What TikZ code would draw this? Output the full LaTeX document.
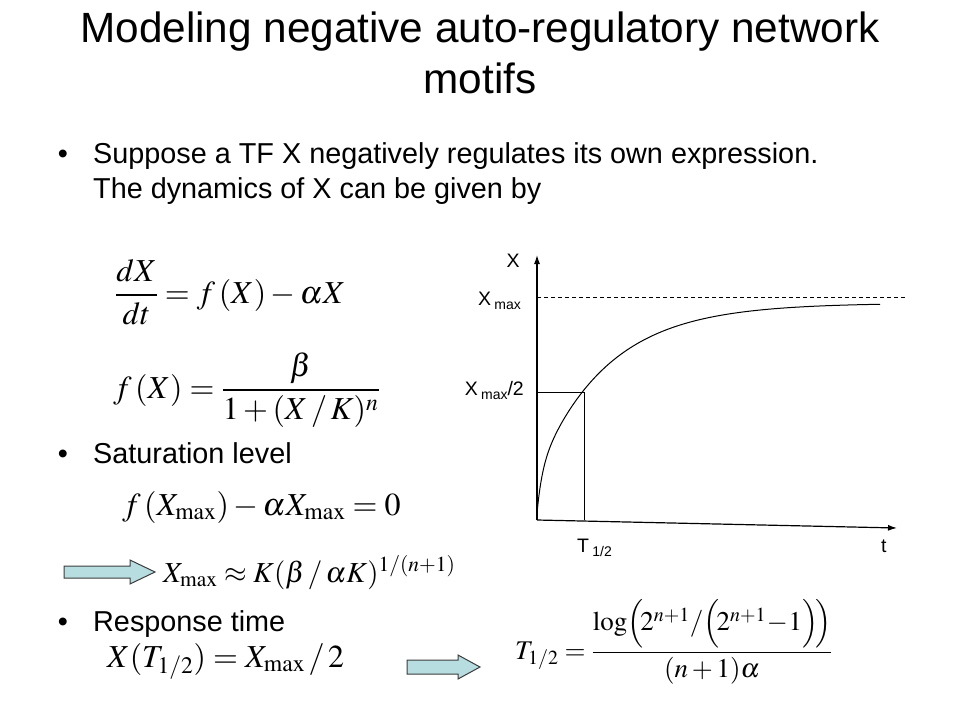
\documentclass[tikz,border=0pt]{standalone}
\usepackage{amsmath}
\usepackage{mathptmx}
\usepackage[no-math]{fontspec}
\setmainfont{Liberation Sans}
\usetikzlibrary{arrows.meta}
\definecolor{arrowfill}{RGB}{183,221,224}
\definecolor{arrowline}{RGB}{60,60,60}
\newcommand\grsub[1]{\raisebox{-4pt}{\fontsize{14}{14}\selectfont #1}}
\tikzset{
  titletext/.style={inner sep=0pt, anchor=base, font=\fontsize{42.3}{50}\selectfont},
  bodytext/.style={inner sep=0pt, anchor=base west, font=\fontsize{28.8}{34}\selectfont},
  bulletmark/.style={inner sep=0pt, anchor=base, font=\fontsize{28.8}{34}\selectfont},
  eqn/.style={inner sep=0pt, anchor=base west, font=\fontsize{32}{38}\selectfont},
  grlabel/.style={inner sep=0pt, font=\fontsize{19.5}{22}\selectfont},
  blockarrow/.style={draw=arrowline, fill=arrowfill, line width=1pt, line join=miter},
  axis/.style={line width=1.2pt, -{Latex[length=9pt,width=6pt]}},
  thin/.style={line width=1pt}
}
\begin{document}
\begin{tikzpicture}[x=1pt,y=-1pt]
\useasboundingbox (0,0) rectangle (960,720);
\fill[white] (0,0) rectangle (960,720);

% title
\node[titletext] (title1) at (480,42) {Modeling negative auto-regulatory network};
\node[titletext] (title2) at (480,93) {motifs};

% bullets
\node[bulletmark] (b1) at (63,163) {•};
\node[bodytext] (t1a) at (93,163) {Suppose a TF X negatively regulates its own expression.};
\node[bodytext] (t1b) at (93,198) {The dynamics of X can be given by};
\node[bulletmark] (b2) at (63,463) {•};
\node[bodytext] (t2) at (93,463) {Saturation level};
\node[bulletmark] (b3) at (63,631) {•};
\node[bodytext] (t3) at (93,631) {Response time};

% equations
\node[eqn] (eq1) at (115,303) {$\dfrac{dX}{dt} = f\,(X) - \alpha X$};
\node[eqn] (eq2) at (113,398) {$f\,(X) = \dfrac{\beta}{1+(X\,/\,K)^{n}}$};
\node[eqn] (eq3) at (122,515) {$f\,(X_{\max}) - \alpha X_{\max} = 0$};
\node[eqn, font=\fontsize{29}{34}\selectfont] (eq4) at (163,582) {$X_{\max} \approx K(\beta\,/\,\alpha K)^{1/(n+1)}$};
\node[eqn] (eq5) at (107,667) {$X(T_{1/2}) = X_{\max}\,/\,2$};
\node[eqn, font=\fontsize{27}{32}\selectfont] (eq6) at (515,659) {$T_{1/2} = \dfrac{\log\Bigl(\!2^{n+1}/\Bigl(\!2^{n+1}\!-\!1\Bigr)\!\Bigr)}{(n+1)\alpha}$};

% block arrows
\draw[blockarrow] (64,566) -- (130,566) -- (130,560) -- (155,572) -- (130,584) -- (130,578) -- (64,578) -- cycle;
\draw[blockarrow] (407,660) -- (458,660) -- (458,655) -- (480,667) -- (458,679) -- (458,674) -- (407,674) -- cycle;

% graph
\coordinate (O) at (537,520);
\coordinate (ytip) at (537,255);
\coordinate (xtip) at (897,528);
\coordinate (dashL) at (537,297);
\coordinate (dashR) at (905,297);
\coordinate (half) at (584,392);
\coordinate (halfL) at (537,392);
\coordinate (halfB) at (584,520);
\draw[axis] (O) -- (ytip);
\draw[axis] (O) -- (xtip);
\draw[thin, dashed, dash pattern=on 4pt off 3pt] (dashL) -- (dashR);
\draw[thin] (halfL) -- (half) -- (halfB);
\draw[thin] plot[domain=0:343, samples=220, smooth]
  ({537+\x}, {513 - 40*(1-exp(-\x/5)) - 170*(1-exp(-\x/70))});

\node[grlabel, anchor=base] (lX) at (513,267) {X};
\node[grlabel, anchor=base east] (lXmax) at (521,305) {X\,\grsub{max}};
\node[grlabel, anchor=base east] (lXhalf) at (524,395) {X\,\grsub{max}/2};
\node[grlabel, anchor=base west] (lT) at (577,552) {T\,\grsub{1/2}};
\node[grlabel, anchor=base west] (lt) at (881,552) {t};
\end{tikzpicture}
\end{document}
